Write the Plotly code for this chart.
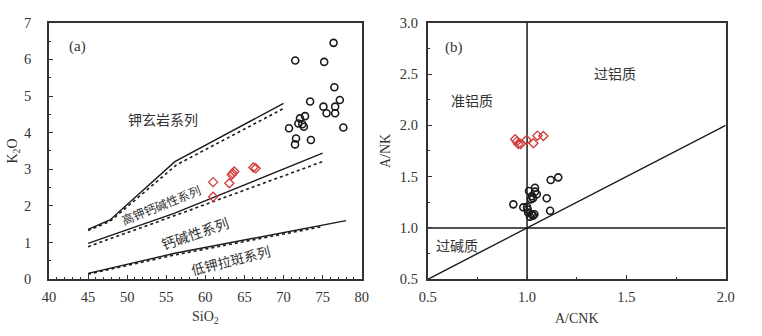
import plotly.graph_objects as go

# ---------------- Panel (a): SiO2 vs K2O ----------------
granite_sio2 = [76.4, 71.5, 75.2, 76.5, 77.2, 73.4, 75.1, 76.6, 75.5, 76.6,
                72.75, 72.1, 71.9, 72.4, 72.6, 70.7, 77.65, 71.6, 71.47, 73.5]
granite_k2o = [6.45, 5.97, 5.93, 5.24, 4.89, 4.85, 4.71, 4.71, 4.53, 4.53,
               4.45, 4.39, 4.25, 4.23, 4.16, 4.12, 4.14, 3.84, 3.68, 3.80]
diorite_sio2 = [61.0, 61.0, 63.07, 63.37, 63.5, 63.7, 66.14, 66.44]
diorite_k2o = [2.65, 2.25, 2.62, 2.85, 2.89, 2.94, 3.05, 3.03]

sho_solid_x = [45, 47.8, 56.1, 70]
sho_solid_y = [1.36, 1.62, 3.21, 4.80]
sho_dot_x = [45, 47.8, 56.3, 70]
sho_dot_y = [1.33, 1.58, 3.12, 4.66]
hk_solid_x = [45, 56, 75]
hk_solid_y = [0.98, 1.80, 3.44]
hk_dot_x = [45, 56, 75]
hk_dot_y = [0.89, 1.73, 3.21]
lk_solid_x = [45, 47.8, 56.1, 78]
lk_solid_y = [0.16, 0.30, 0.71, 1.60]
lk_dot_x = [45, 56, 75]
lk_dot_y = [0.14, 0.66, 1.44]

# ---------------- Panel (b): A/CNK vs A/NK ----------------
granite_acnk = [1.157, 1.119, 1.040, 1.010, 1.040, 1.049, 1.020, 1.030, 1.099, 0.931,
                0.981, 1.000, 1.116, 1.006, 1.023, 1.037, 1.015, 1.030, 1.003, 1.025]
granite_ank = [1.493, 1.467, 1.392, 1.360, 1.354, 1.328, 1.279, 1.290, 1.289, 1.230,
               1.201, 1.205, 1.168, 1.149, 1.133, 1.133, 1.110, 1.120, 1.180, 1.310]
diorite_acnk = [0.940, 0.948, 0.956, 0.968, 0.998, 1.032, 1.052, 1.082]
diorite_ank = [1.864, 1.841, 1.818, 1.818, 1.857, 1.825, 1.899, 1.896]

vline_x = [1.0, 1.0]
vline_y = [0.5, 3.0]
hline_x = [0.5, 2.0]
hline_y = [1.0, 1.0]
diag_x = [0.5, 2.0]
diag_y = [0.5, 2.0]

LINE = "#1a1a1a"
AX = "#333333"
RED = "#d43c3c"
SERIF = "Liberation Serif, Times New Roman, serif"
CJK = "Noto Sans CJK SC"

fig = go.Figure()

def add_line(x, y, dash, xa, ya, width=1.4):
    fig.add_trace(go.Scatter(x=x, y=y, mode="lines", xaxis=xa, yaxis=ya,
                             line=dict(color=LINE, width=width, dash=dash),
                             showlegend=False, hoverinfo="skip"))

for (x, y, d) in [(sho_solid_x, sho_solid_y, "solid"), (sho_dot_x, sho_dot_y, "dot"),
                  (hk_solid_x, hk_solid_y, "solid"), (hk_dot_x, hk_dot_y, "dot"),
                  (lk_solid_x, lk_solid_y, "solid"), (lk_dot_x, lk_dot_y, "dot")]:
    add_line(x, y, d, "x", "y", 1.4 if d == "solid" else 1.6)

fig.add_trace(go.Scatter(x=granite_sio2, y=granite_k2o, mode="markers", xaxis="x", yaxis="y",
                         marker=dict(symbol="circle-open", size=7, color=LINE, line=dict(width=1.6)),
                         showlegend=False))
fig.add_trace(go.Scatter(x=diorite_sio2, y=diorite_k2o, mode="markers", xaxis="x", yaxis="y",
                         marker=dict(symbol="diamond-open", size=7, color=RED, line=dict(width=1.3)),
                         showlegend=False))

add_line(vline_x, vline_y, "solid", "x2", "y2", 1.5)
add_line(hline_x, hline_y, "solid", "x2", "y2", 1.5)
add_line(diag_x, diag_y, "solid", "x2", "y2", 1.4)

fig.add_trace(go.Scatter(x=granite_acnk, y=granite_ank, mode="markers", xaxis="x2", yaxis="y2",
                         marker=dict(symbol="circle-open", size=7, color=LINE, line=dict(width=1.6)),
                         showlegend=False))
fig.add_trace(go.Scatter(x=diorite_acnk, y=diorite_ank, mode="markers", xaxis="x2", yaxis="y2",
                         marker=dict(symbol="diamond-open", size=7, color=RED, line=dict(width=1.3)),
                         showlegend=False))

axis_common = dict(showline=True, mirror=True, linecolor=AX, linewidth=1.8, automargin=False,
                   ticks="inside", ticklen=4, tickcolor=AX, showgrid=False, zeroline=False,
                   tickfont=dict(family=SERIF, size=14.5, color="#333333"),
                   title_font=dict(family=SERIF, size=14, color="#333333"))

fig.update_layout(
    width=762, height=336,
    margin=dict(l=0, r=0, t=0, b=0),
    paper_bgcolor="white", plot_bgcolor="white",
    xaxis=dict(domain=[0.0643, 0.4747], range=[40, 80], dtick=5, anchor="y",
               minor=dict(ticks="inside", dtick=1, ticklen=2.5, tickcolor=AX),
               title=dict(text="SiO<sub>2</sub>", standoff=8), ticklabelstandoff=3, **axis_common),
    yaxis=dict(domain=[0.1688, 0.9325], range=[0, 7], dtick=1, anchor="x",
               minor=dict(ticks="inside", dtick=0.5, ticklen=2.5, tickcolor=AX),
               title=dict(text="K<sub>2</sub>O", standoff=3), ticklabelstandoff=13, **axis_common),
    xaxis2=dict(domain=[0.5613, 0.9524], range=[0.5, 2.0], dtick=0.5, tickformat=".1f", anchor="y2",
                minor=dict(ticks="inside", dtick=0.25, ticklen=2.5, tickcolor=AX),
                title=dict(text="A/CNK", standoff=10), ticklabelstandoff=3, **axis_common),
    yaxis2=dict(domain=[0.1688, 0.9325], range=[0.5, 3.0], dtick=0.5, tickformat=".1f", anchor="x2",
                minor=dict(ticks="inside", dtick=0.25, ticklen=2.5, tickcolor=AX),
                title=dict(text="A/NK", standoff=6), ticklabelstandoff=5, **axis_common),
)

def ann(text, x, y, xr, yr, angle=0, size=14, font=CJK):
    fig.add_annotation(text=text, x=x, y=y, xref=xr, yref=yr, showarrow=False,
                       textangle=angle, font=dict(family=font, size=size, color="#333333"))

ann("(a)", 43.6, 6.35, "x", "y", size=15, font=SERIF)
ann("钾玄岩系列", 54.6, 4.37, "x", "y")
ann("高钾钙碱性系列", 54.3, 2.03, "x", "y", angle=-22, size=12)
ann("钙碱性系列", 58.7, 1.25, "x", "y", angle=-19)
ann("低钾拉斑系列", 63.2, 0.53, "x", "y", angle=-14, size=13.5)

ann("(b)", 0.63, 2.76, "x2", "y2", size=15, font=SERIF)
ann("过铝质", 1.443, 2.51, "x2", "y2")
ann("准铝质", 0.721, 2.246, "x2", "y2")
ann("过碱质", 0.646, 0.834, "x2", "y2")

fig.write_html("out.html", config={"displayModeBar": False},
               post_script="document.body.style.margin='0';document.body.style.overflow='hidden';")
